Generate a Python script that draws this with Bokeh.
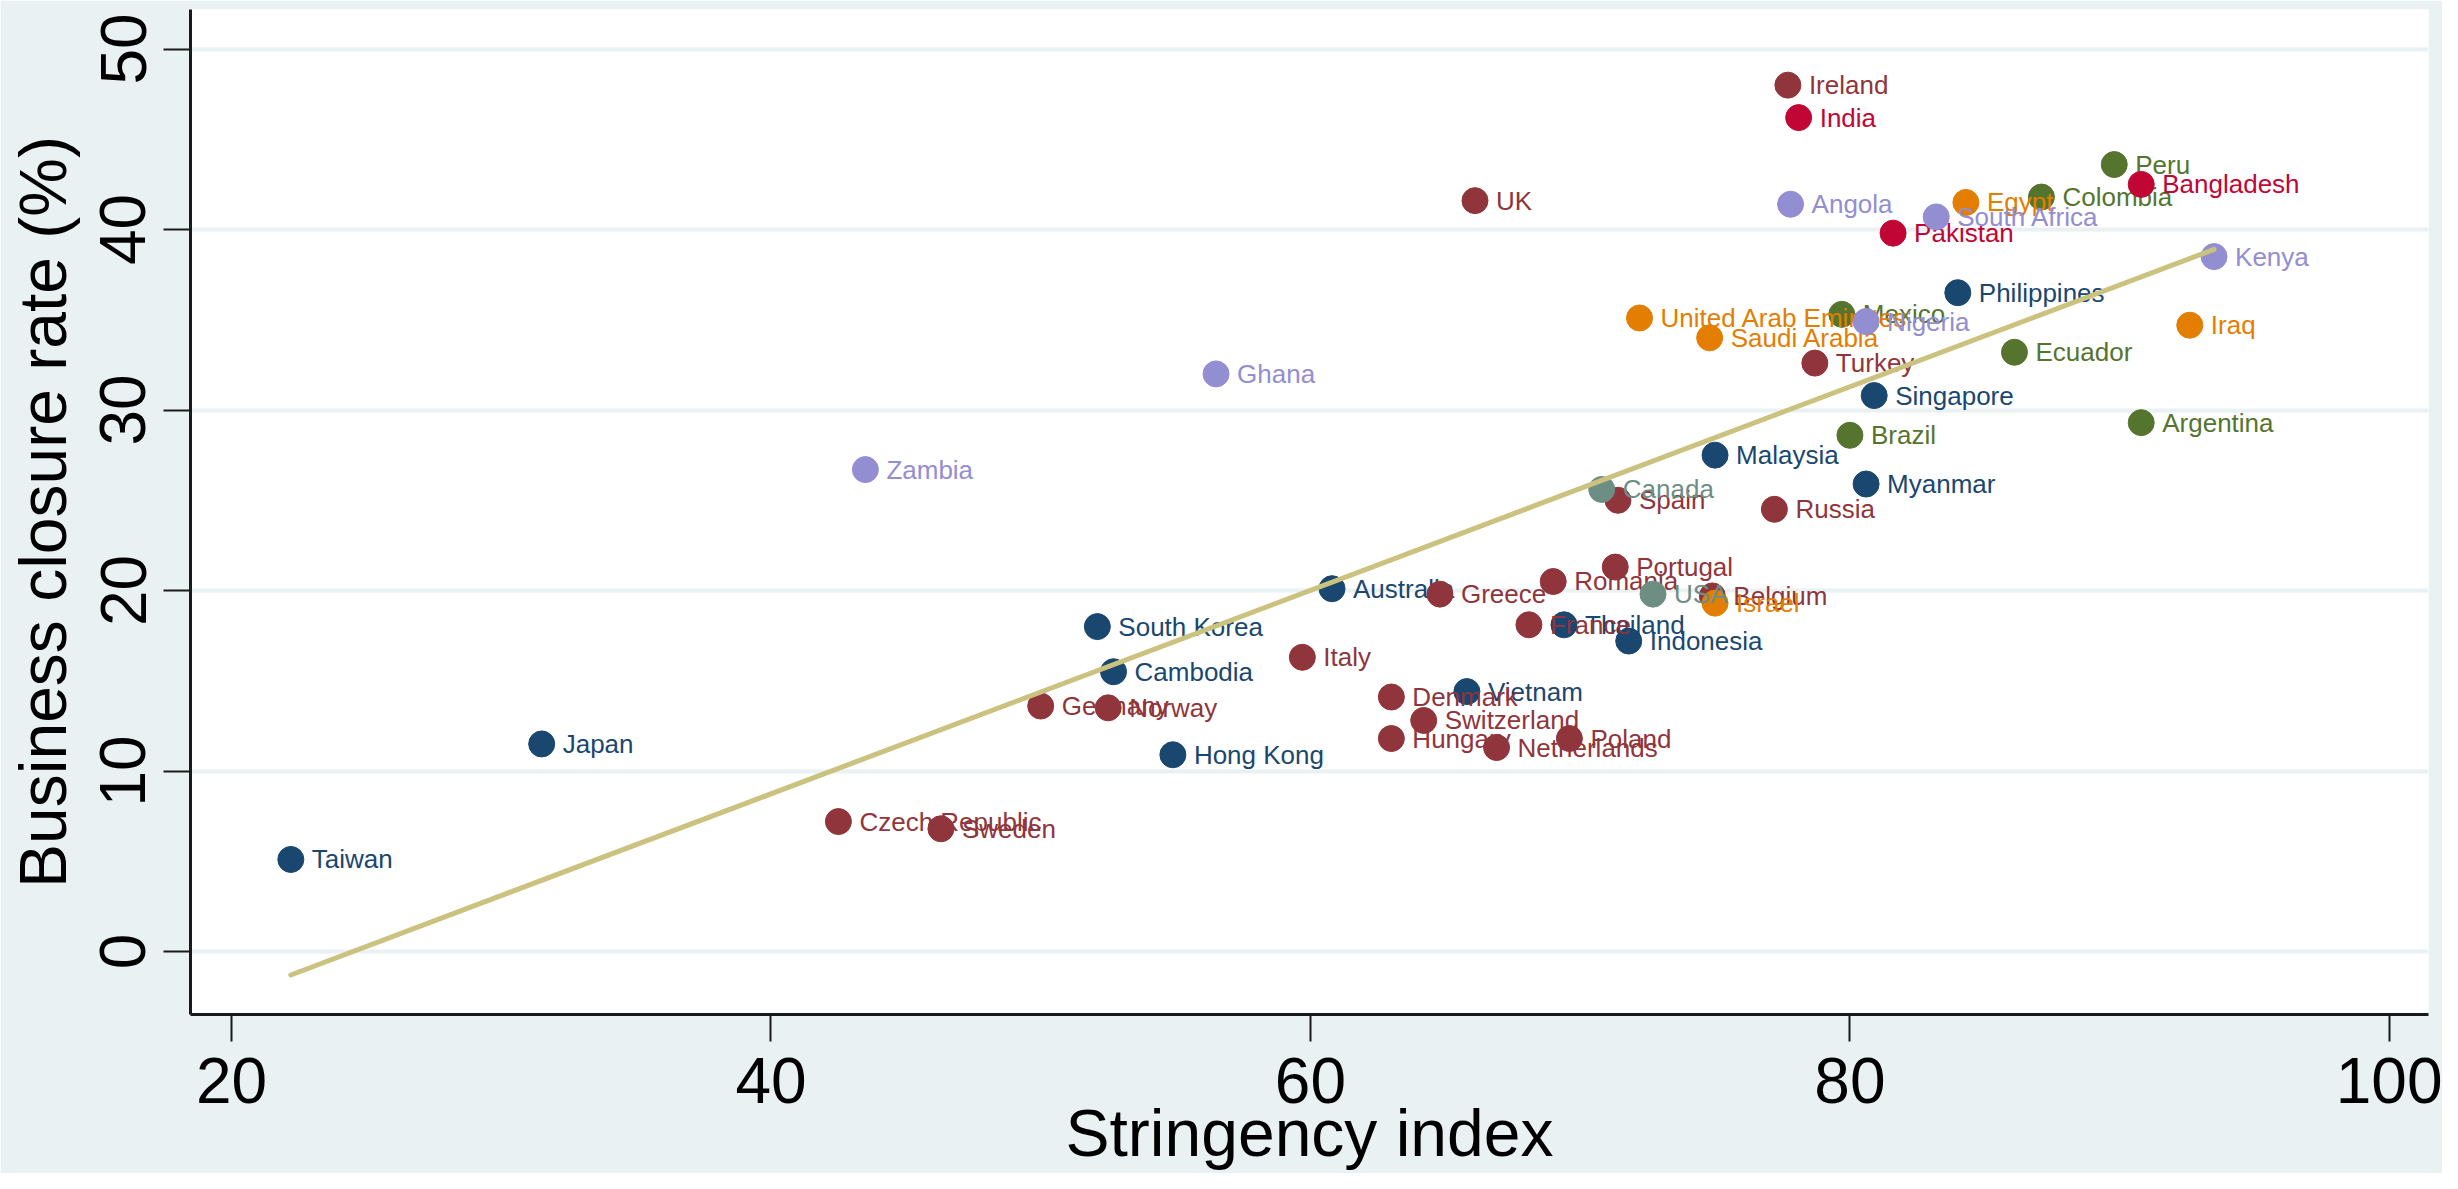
import numpy as np
from bokeh.plotting import figure
from bokeh.models import ColumnDataSource, FixedTicker, Range1d
from bokeh.core.properties import value
from bokeh.embed import file_html
from bokeh.resources import INLINE

# ---- data ----
countries = [
    "Taiwan", "Japan", "Hong Kong", "South Korea", "Cambodia", "Australia", "Vietnam",
    "Thailand", "Indonesia", "Malaysia", "Singapore", "Myanmar", "Philippines",
    "Czech Republic", "Sweden", "Germany", "Norway", "Italy", "Greece", "Denmark",
    "Hungary", "Switzerland", "Netherlands", "Poland", "UK", "France", "Romania",
    "Portugal", "Belgium", "Spain", "Russia", "Turkey", "Ireland",
    "Mexico", "Brazil", "Ecuador", "Argentina", "Colombia", "Peru",
    "United Arab Emirates", "Saudi Arabia", "Israel", "Egypt", "Iraq",
    "Canada", "USA",
    "India", "Pakistan", "Bangladesh",
    "Zambia", "Ghana", "Angola", "Nigeria", "South Africa", "Kenya",
]
stringency = [
    22.2, 31.5, 54.9, 52.1, 52.7, 60.8, 65.8,
    69.4, 71.8, 75.0, 80.9, 80.6, 84.0,
    42.5, 46.3, 50.0, 52.5, 59.7, 64.8, 63.0,
    63.0, 64.2, 66.9, 69.6, 66.1, 68.1, 69.0,
    71.3, 74.9, 71.4, 77.2, 78.7, 77.7,
    79.7, 80.0, 86.1, 90.8, 87.1, 89.8,
    72.2, 74.8, 75.0, 84.3, 92.6,
    70.8, 72.7,
    78.1, 81.6, 90.8,
    43.5, 56.5, 77.8, 80.6, 83.2, 93.5,
]
closure = [
    5.1, 11.5, 10.9, 18.0, 15.5, 20.1, 14.4,
    18.1, 17.2, 27.5, 30.8, 25.9, 36.5,
    7.2, 6.8, 13.6, 13.5, 16.3, 19.8, 14.1,
    11.8, 12.8, 11.3, 11.8, 41.6, 18.1, 20.5,
    21.3, 19.7, 25.0, 24.5, 32.6, 48.0,
    35.3, 28.6, 33.2, 29.3, 41.8, 43.6,
    35.1, 34.0, 19.3, 41.5, 34.7,
    25.6, 19.8,
    46.2, 39.8, 42.5,
    26.7, 32.0, 41.4, 34.9, 40.7, 38.5,
]
region = (
    ["East Asia & Pacific"] * 13
    + ["Europe & Central Asia"] * 20
    + ["Latin America"] * 6
    + ["Middle East & North Africa"] * 5
    + ["North America"] * 2
    + ["South Asia"] * 3
    + ["Sub-Saharan Africa"] * 6
)
region_order = [
    "East Asia & Pacific", "Europe & Central Asia", "Latin America",
    "Middle East & North Africa", "North America", "South Asia", "Sub-Saharan Africa",
]
# fitted line (linear fit) endpoints as drawn in the reference
fit_x = [22.2, 93.5]
fit_y = [-1.3, 38.9]
x_ticks = [20, 40, 60, 80, 100]
y_ticks = [0, 10, 20, 30, 40, 50]

# ---- style ----
palette = {
    "East Asia & Pacific": "#1a476f",
    "Europe & Central Asia": "#90353b",
    "Latin America": "#55752f",
    "Middle East & North Africa": "#e37e00",
    "North America": "#6e8e84",
    "South Asia": "#c10534",
    "Sub-Saharan Africa": "#938dd2",
}
fit_color = "#cac27e"
bg = "#e9f1f3"
font = "Liberation Sans"

p = figure(
    width=2442, height=1173,
    x_range=Range1d(18.48, 101.45), y_range=Range1d(-3.49, 52.19),
    output_backend="svg", toolbar_location=None,
    min_border_left=190, min_border_right=14, min_border_top=9, min_border_bottom=159,
)
p.background_fill_color = "white"
p.border_fill_color = bg
p.outline_line_color = None

p.xgrid.grid_line_color = None
p.ygrid.grid_line_color = bg
p.ygrid.grid_line_width = 4

for ax in (p.xaxis[0], p.yaxis[0]):
    ax.axis_line_color = "#1a1a1a"
    ax.axis_line_width = 3
    ax.major_tick_line_color = "#1a1a1a"
    ax.major_tick_line_width = 2
    ax.major_tick_in = 0
    ax.major_tick_out = 27
    ax.minor_tick_line_color = None
    ax.major_label_text_font = font
    ax.major_label_text_font_size = "64px"
    ax.major_label_text_color = "black"
    ax.axis_label_text_font = font
    ax.axis_label_text_font_size = "66px"
    ax.axis_label_text_font_style = "normal"
    ax.axis_label_text_color = "black"

p.xaxis.ticker = FixedTicker(ticks=x_ticks)
p.yaxis.ticker = FixedTicker(ticks=y_ticks)
p.xaxis.axis_label = "Stringency index"
p.yaxis.axis_label = "Business closure rate (%)"
p.yaxis.major_label_orientation = "vertical"
p.xaxis.major_label_standoff = 16
p.xaxis.axis_label_standoff = -10
p.yaxis.major_label_standoff = 18
p.yaxis.axis_label_standoff = 18

for reg in region_order:
    idx = [i for i, r in enumerate(region) if r == reg]
    src = ColumnDataSource(dict(
        x=[stringency[i] for i in idx],
        y=[closure[i] for i in idx],
        name=[countries[i] for i in idx],
    ))
    col = palette[reg]
    p.scatter("x", "y", source=src, size=26, fill_color=col, line_color=col, line_width=1)
    p.text("x", "y", text="name", source=src, x_offset=21, text_baseline="middle",
           text_align="left", text_color=col, text_font=value(font), text_font_size="26px")

p.line(fit_x, fit_y, line_color=fit_color, line_width=5, line_cap="round")

open("out.html", "w").write(file_html(p, INLINE))
